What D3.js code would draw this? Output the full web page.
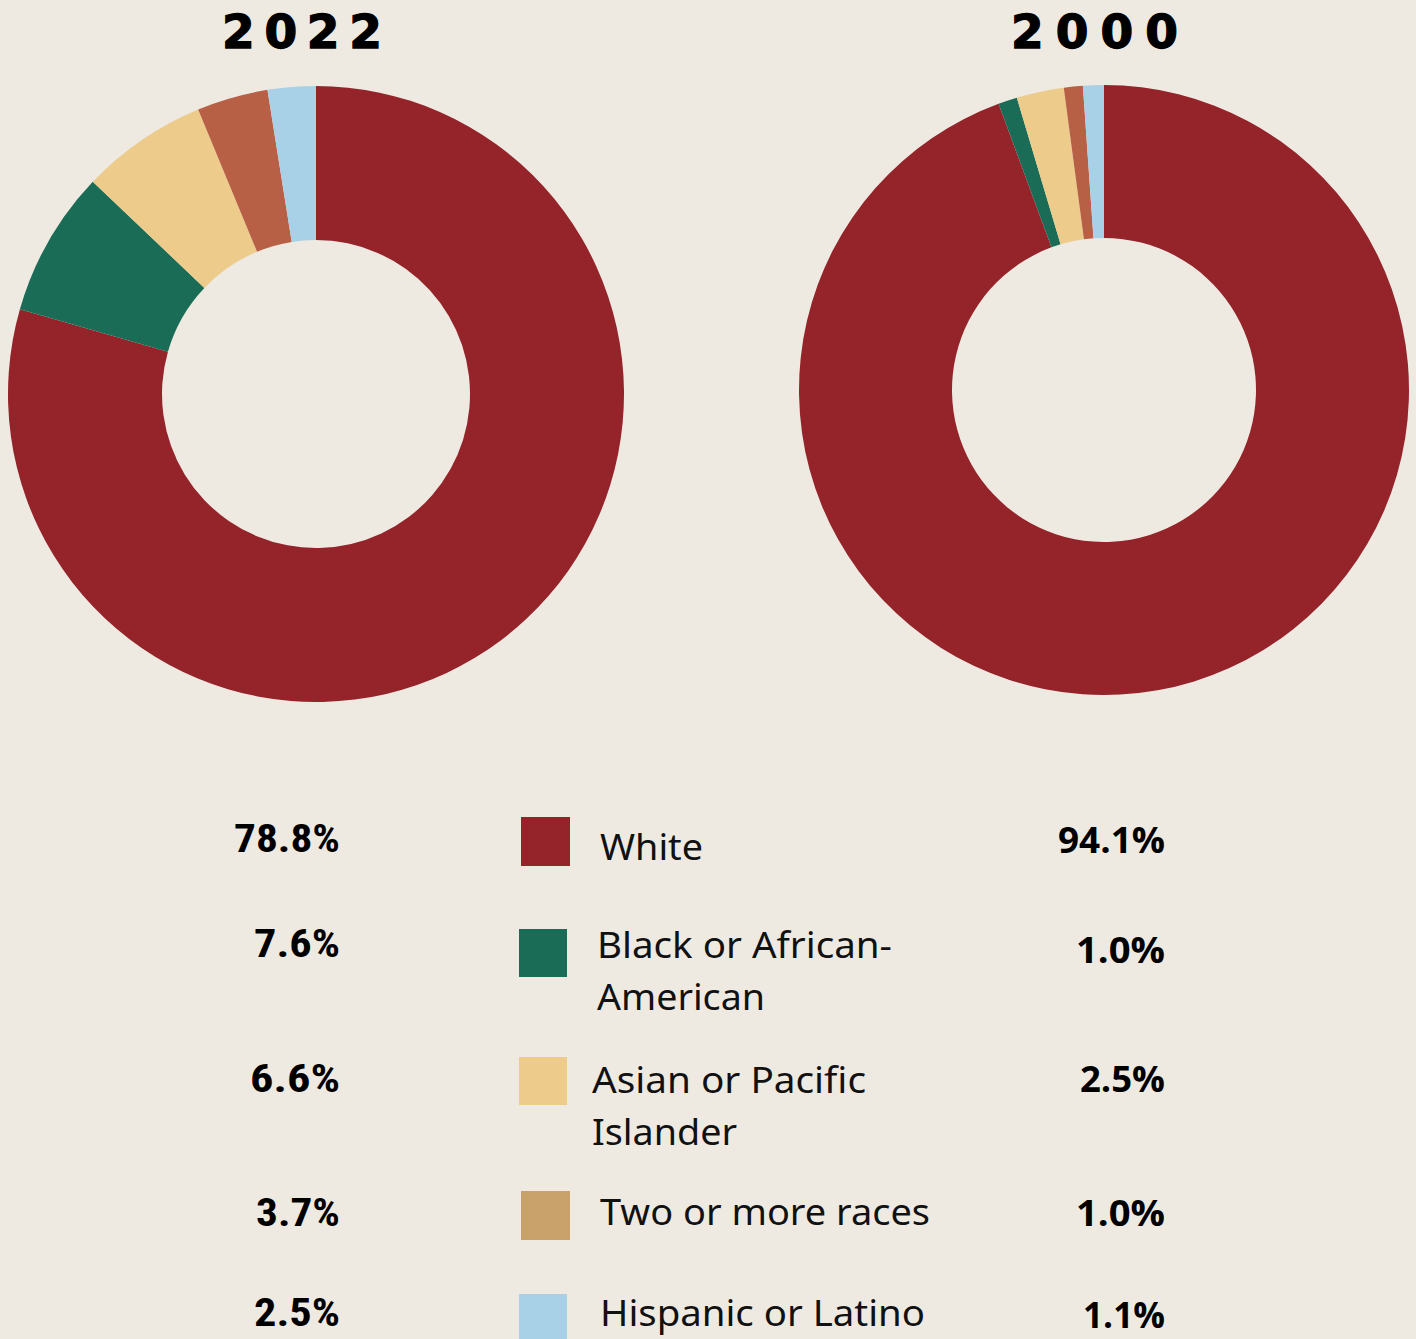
<!DOCTYPE html>
<html>
<head>
<meta charset="utf-8">
<script src="https://cdn.jsdelivr.net/npm/d3@7"></script>
<style>
  html, body { margin: 0; padding: 0; background: #EEEAE2; }
  svg { display: block; }
</style>
</head>
<body>
<script>
// two donuts (2022 / 2000) + shared legend in the middle, percentages either side
const categories = ["White", "Black or African-American", "Asian or Pacific Islander", "Two or more races", "Hispanic or Latino"];
const legendLines = [["White"], ["Black or African-", "American"], ["Asian or Pacific", "Islander"], ["Two or more races"], ["Hispanic or Latino"]];
const values2022 = [78.8, 7.6, 6.6, 3.7, 2.5];
const values2000 = [94.1, 1.0, 2.5, 1.0, 1.1];
const years = ["2022", "2000"];

const sliceColors = ["#94232A", "#1A6C56", "#EDCB8B", "#B86045", "#A8D0E6"];
const legendColors = ["#94232A", "#1A6C56", "#EDCB8B", "#C9A26B", "#A8D0E6"];

const W = 1416, H = 1339;
const svg = d3.select("body").append("svg").attr("width", W).attr("height", H);
svg.append("rect").attr("width", W).attr("height", H).attr("fill", "#EEEAE2");

const pie = d3.pie().sort(null).value(d => d);
const color = d3.scaleOrdinal().domain(categories).range(sliceColors);

// donut geometry
const donuts = [
  { year: years[0], vals: values2022, cx: 316, cy: 394, r0: 154, r1: 308, tx: 222, tw: 160 },
  { year: years[1], vals: values2000, cx: 1104, cy: 390, r0: 152, r1: 305, tx: 1011, tw: 167 },
];

donuts.forEach(dn => {
  const arc = d3.arc().innerRadius(dn.r0).outerRadius(dn.r1);
  const g = svg.append("g").attr("transform", `translate(${dn.cx},${dn.cy})`);
  g.selectAll("path").data(pie(dn.vals)).join("path")
    .attr("d", arc)
    .attr("fill", (d, i) => color(categories[i]));
  svg.append("text")
    .attr("x", dn.tx).attr("y", 48)
    .attr("textLength", dn.tw).attr("lengthAdjust", "spacing")
    .attr("style", "font:bold 47px 'DejaVu Sans';fill:#000;stroke:#000;stroke-width:1.3")
    .text(dn.year);
});

// legend rows
const rowY = [860, 958, 1093, 1225, 1326];
const boxes = [[521, 817, 49], [519, 929, 48], [519, 1057, 48], [521, 1191, 49], [519, 1294, 48]];
const textX = [600, 597, 592, 600, 600];
const lineW = [[103], [295, 168], [274, 145], [330], [325]];
const leftY = [852, 957, 1092, 1226, 1326];
const leftW = [106, 86, 90, 84, 86];
const rightY = [853, 963, 1092, 1226, 1328];
const rightW = [107, 89, 85, 89, 82];

const fmt = d3.format(".1f");

categories.forEach((c, i) => {
  const [bx, by, bs] = boxes[i];
  svg.append("rect").attr("x", bx).attr("y", by).attr("width", bs).attr("height", bs)
    .attr("fill", legendColors[i]);
  legendLines[i].forEach((ln, k) => {
    svg.append("text")
      .attr("x", textX[i]).attr("y", rowY[i] + k * 52)
      .attr("textLength", lineW[i][k]).attr("lengthAdjust", "spacingAndGlyphs")
      .attr("style", "font:36px 'Noto Sans';fill:#111")
      .text(ln);
  });
  svg.append("text")
    .attr("x", 340 - leftW[i]).attr("y", leftY[i])
    .attr("textLength", leftW[i]).attr("lengthAdjust", "spacingAndGlyphs")
    .attr("style", "font:bold 39px 'Liberation Sans Narrow', 'Roboto Condensed', 'Roboto';fill:#000")
    .text(fmt(values2022[i]) + "%");
  svg.append("text")
    .attr("x", 1165 - rightW[i]).attr("y", rightY[i])
    .attr("textLength", rightW[i]).attr("lengthAdjust", "spacingAndGlyphs")
    .attr("style", "font:bold 36px 'Open Sans';fill:#000")
    .text(fmt(values2000[i]) + "%");
});
</script>
</body>
</html>
